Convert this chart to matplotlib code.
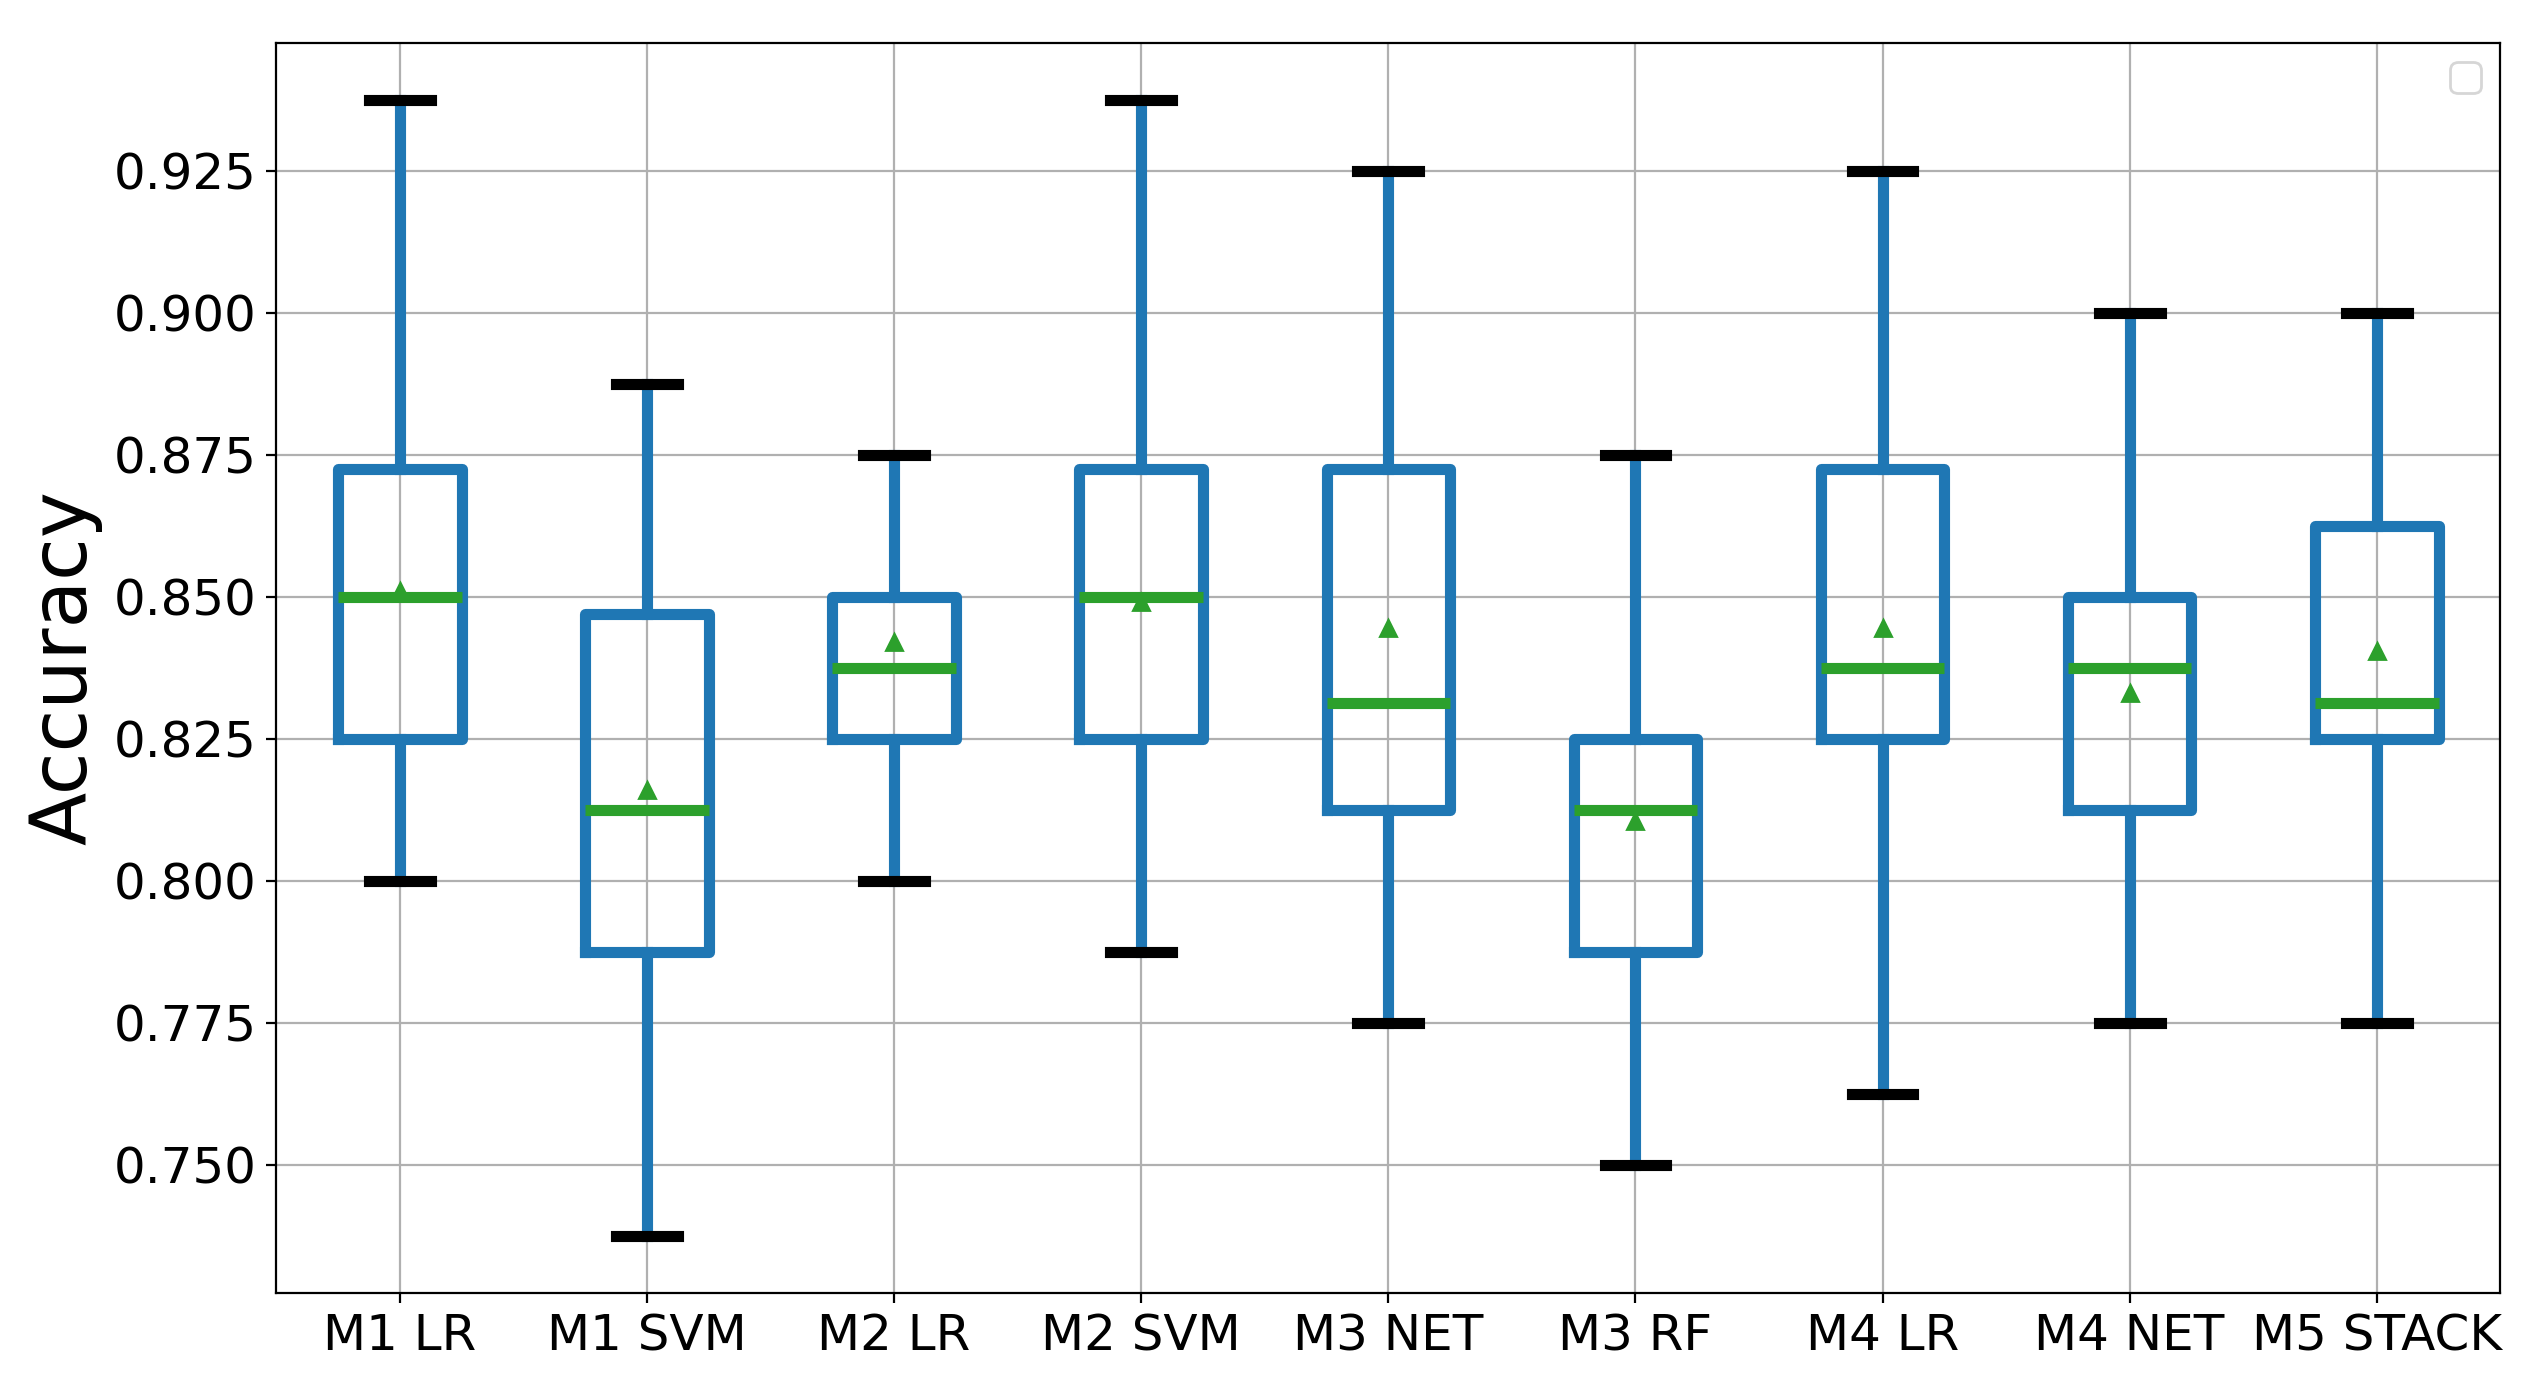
import matplotlib
matplotlib.use("Agg")
import matplotlib.pyplot as plt

# model names and box statistics
models = ["M1 LR", "M1 SVM", "M2 LR", "M2 SVM", "M3 NET",
          "M3 RF", "M4 LR", "M4 NET", "M5 STACK"]
whislo = [0.800, 0.7375, 0.800, 0.7875, 0.775, 0.750, 0.7625, 0.775, 0.775]
q1 = [0.825, 0.7875, 0.825, 0.825, 0.8125, 0.7875, 0.825, 0.8125, 0.825]
med = [0.850, 0.8125, 0.8375, 0.850, 0.83125, 0.8125, 0.8375, 0.8375, 0.83125]
q3 = [0.8725, 0.8469, 0.850, 0.8725, 0.8725, 0.825, 0.8725, 0.850, 0.8625]
whishi = [0.9375, 0.8875, 0.875, 0.9375, 0.925, 0.875, 0.925, 0.900, 0.900]
means = [0.851, 0.816, 0.842, 0.849, 0.8445, 0.8105, 0.8445, 0.833, 0.8405]

stats = []
for i in range(len(models)):
    stats.append(dict(label=models[i], whislo=whislo[i], q1=q1[i], med=med[i],
                      q3=q3[i], whishi=whishi[i], mean=means[i], fliers=[]))

fig = plt.figure(figsize=(12.615, 6.905), dpi=200)
ax = fig.add_subplot(1, 1, 1)
fig.subplots_adjust(left=0.1095, right=0.991, bottom=0.064, top=0.969)

lw = 4
ax.bxp(stats, showmeans=True, widths=0.5,
       boxprops=dict(color="#1f77b4", linewidth=lw),
       whiskerprops=dict(color="#1f77b4", linewidth=lw),
       capprops=dict(color="k", linewidth=lw),
       medianprops=dict(color="#2ca02c", linewidth=lw),
       meanprops=dict(marker="^", markerfacecolor="#2ca02c",
                      markeredgecolor="#2ca02c", markersize=6))

ax.grid(True)
ax.set_axisbelow(True)
ax.tick_params(axis="both", labelsize=18)
ax.set_ylabel("Accuracy", fontsize=28)
ax.set_yticks([0.750, 0.775, 0.800, 0.825, 0.850, 0.875, 0.900, 0.925])
# empty legend box, as in the original
ax.legend(handles=[], loc="upper right", fontsize=14)

fig.savefig("out.png", dpi=200)
